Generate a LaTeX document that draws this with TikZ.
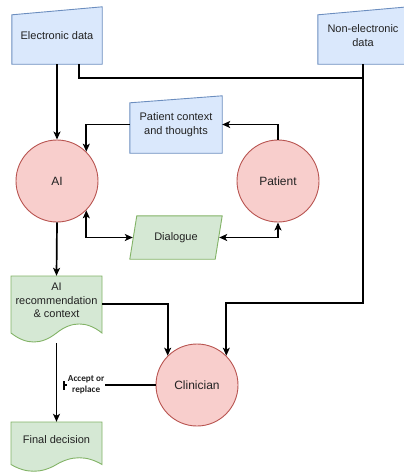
\documentclass[tikz,border=0pt]{standalone}
\usepackage{fontspec}
\setmainfont{Liberation Sans}
\newfontfamily\lblfont{Carlito}
\usetikzlibrary{arrows.meta,backgrounds,calc}
\definecolor{bluef}{HTML}{DAE8FC}
\definecolor{blued}{HTML}{6C8EBF}
\definecolor{redf}{HTML}{F8CECC}
\definecolor{redd}{HTML}{B85450}
\definecolor{greenf}{HTML}{D5E8D4}
\definecolor{greend}{HTML}{82B366}
\definecolor{txtc}{HTML}{222222}
\begin{document}
\begin{tikzpicture}[x=1pt,y=-1pt,
  txt/.style={font=\fontsize{11}{13.5}\selectfont, text=txtc, align=center},
  shapebox/.style={draw=none, inner sep=0pt, txt},
  circ/.style={circle, draw=redd, fill=redf, line width=0.9pt, minimum size=82pt, inner sep=0pt, text=txtc, font=\fontsize{12}{14}\selectfont},
  bluebox/.style={draw=blued, fill=bluef, line width=0.9pt},
  greenbox/.style={draw=greend, fill=greenf, line width=0.9pt},
  conn/.style={line width=1.7pt, black},
  arr/.style={conn, -{Stealth[length=8pt,width=7pt,inset=2pt]}},
  dblarr/.style={conn, {Stealth[length=8pt,width=7pt,inset=2pt]}-{Stealth[length=8pt,width=7pt,inset=2pt]}},
  lbl/.style={fill=white, inner sep=0.5pt, align=center, text=txtc, font=\lblfont\bfseries\fontsize{9.2}{11}\selectfont}
]
\useasboundingbox (0,0) rectangle (404,472);

% nodes
\node[shapebox, minimum width=90pt, minimum height=57pt] (ed) at (57,35.5) {Electronic data};
\node[shapebox, minimum width=90pt, minimum height=57pt] (ned) at (363,35.5) {Non-electronic\\data};
\node[shapebox, minimum width=92pt, minimum height=57pt] (pc) at (176,124.5) {Patient context\\and thoughts};
\node[shapebox, minimum width=92pt, minimum height=43pt] (dia) at (176,237.5) {Dialogue};
\node[circ] (ai) at (57,181) {AI};
\node[circ] (pt) at (278,181) {Patient};
\node[circ] (cl) at (197,385) {Clinician};
\node[shapebox, minimum width=91pt, minimum height=67pt,
      label={[txt, yshift=9pt]center:{AI\\recommendation\\\& context}}] (rec) at (56.5,309.5) {};
\node[shapebox, minimum width=91pt, minimum height=50pt,
      label={[txt, yshift=7pt]center:{Final decision}}] (fd) at (56.5,447) {};

\begin{scope}[on background layer]
  \filldraw[bluebox] (ed.south west) -- (ed.south east) -- (ed.north east) -- ([yshift=-8pt]ed.north west) -- cycle;
  \filldraw[bluebox] (ned.south west) -- (ned.south east) -- (ned.north east) -- ([yshift=-8pt]ned.north west) -- cycle;
  \filldraw[bluebox] (pc.south west) -- (pc.south east) -- (pc.north east) -- ([yshift=-7pt]pc.north west) -- cycle;
  \filldraw[greenbox] (dia.south west) -- ([xshift=-7pt]dia.south east) -- (dia.north east) -- ([xshift=7pt]dia.north west) -- cycle;
  % AI recommendation (document shape)
  \filldraw[greenbox] (11,276) -- (102,276) -- (102,333)
     .. controls (86.83,320.93) and (71.67,320.93) .. (56.5,333)
     .. controls (41.33,345) and (26.17,345) .. (11,333) -- cycle;
  % Final decision (document shape)
  \filldraw[greenbox] (11,422) -- (102,422) -- (102,464.5)
     .. controls (86.83,455.5) and (71.67,455.5) .. (56.5,464.5)
     .. controls (41.33,473.5) and (26.17,473.5) .. (11,464.5) -- cycle;
\end{scope}

% connectors
\coordinate (j1) at (363,78);
\coordinate (j2) at (363,303);
\coordinate (acc) at (63,385);
\draw[arr] (ed.south) -- (ai.north);
\draw[conn] ([xshift=22pt]ed.south) |- (j1);
\draw[arr] (ned.south) -- (j2) -| (cl.45);
\draw[arr] (pt.north) |- (pc.east);
\draw[arr] (pc.west) -| (ai.45);
\draw[dblarr] (ai.-45) |- ([xshift=3pt]dia.west);
\draw[dblarr] ([xshift=-3pt]dia.east) -| (pt.south);
\draw[arr] (ai.south) -- (rec.north);
\draw[arr] ([yshift=5.5pt]rec.east) -| (cl.135);
\draw[arr] (rec.south) -- (fd.north);
\draw[conn, -{Bar[width=9pt,line width=1.7pt]}] (cl.west) -- node[lbl, pos=0.75] {Accept or\\replace} (acc);
\end{tikzpicture}
\end{document}
